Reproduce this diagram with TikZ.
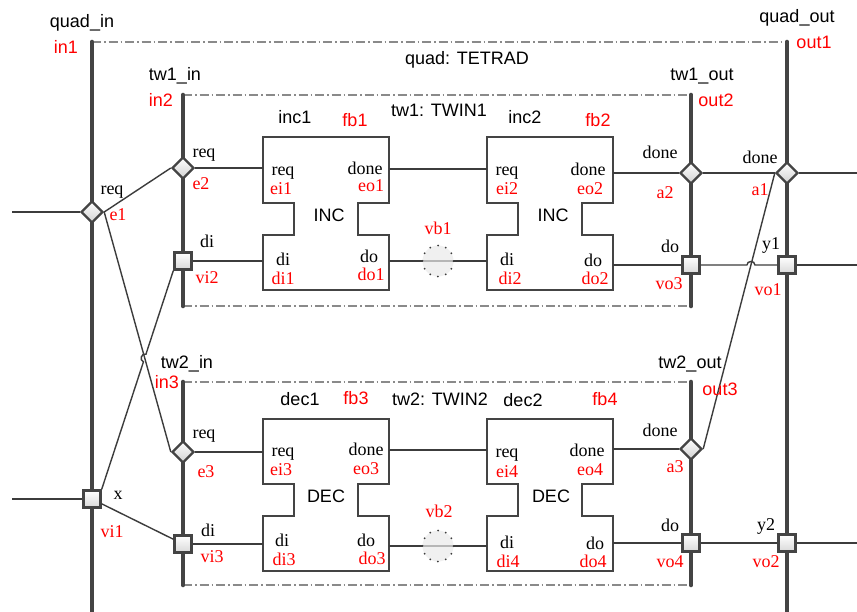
\documentclass[tikz,border=0pt]{standalone}
\usepackage{fontspec}
\setmainfont{Liberation Serif}
\setsansfont{Liberation Sans}
\usetikzlibrary{shapes.geometric,calc,intersections}
\definecolor{bus}{HTML}{444444}
\definecolor{wire}{HTML}{3C3C3C}
\definecolor{framec}{HTML}{8A8A8A}
\definecolor{labred}{HTML}{FF0000}
\tikzset{
 busline/.style={line width=4.6pt, color=bus, line cap=round},
 wireline/.style={line width=1.4pt, color=wire},
 frameline/.style={line width=1.4pt, color=framec, dash pattern=on 9pt off 3pt on 1.5pt off 3pt},
 blockline/.style={line width=2.4pt, color=bus, line join=miter},
 dia/.style={diamond, draw=bus, line width=2.4pt, minimum width=22pt, minimum height=22pt, inner sep=0pt, top color=white, bottom color=black!18},
 sq/.style={rectangle, draw=bus, line width=2.4pt, minimum size=17pt, inner sep=0pt, top color=white, bottom color=black!15},
 vbuf/.style={circle, minimum size=31pt, inner sep=0pt, fill=black!8, fill opacity=0.7, draw=wire, draw opacity=1, line width=2pt, line cap=round, dash pattern=on 0pt off 8.1pt},
 stxt/.style={font=\sffamily\fontsize{18}{20}\selectfont, inner sep=0pt, anchor=base, text=black},
 srxt/.style={stxt, text=labred},
 ttxt/.style={font=\rmfamily\fontsize{18}{20}\selectfont, inner sep=0pt, anchor=base, text=black},
 trxt/.style={ttxt, text=labred},
}
\newcommand\lbl[4]{\node[#2] (#1) at (#3) {#4};}
\begin{document}
\begin{tikzpicture}[x=1pt,y=-1pt]
\fill[white] (0,0) rectangle (857,611);
\useasboundingbox (0,0) rectangle (857,611);

% frames
\draw[frameline] (92,42) -- (787,42);
\draw[frameline] (183,95) -- (691,95);
\draw[frameline] (183,306) -- (691,306);
\draw[frameline] (183,382) -- (691,382);
\draw[frameline] (183,585) -- (691,585);

% buses
\draw[busline] (92,42) -- (92,625);
\draw[busline] (787,42) -- (787,625);
\draw[busline] (183,95) -- (183,306);
\draw[busline] (691,95) -- (691,306);
\draw[busline] (183,382) -- (183,585);
\draw[busline] (691,382) -- (691,585);

% blocks
\draw[blockline] (263,137) -- (389,137) -- (389,203) -- (358,203) -- (358,235) -- (389,235) -- (389,290) -- (263,290) -- (263,235) -- (294,235) -- (294,203) -- (263,203) -- cycle;
\draw[blockline] (487,137) -- (613,137) -- (613,203) -- (582,203) -- (582,235) -- (613,235) -- (613,290) -- (487,290) -- (487,235) -- (518,235) -- (518,203) -- (487,203) -- cycle;
\draw[blockline] (263,419) -- (389,419) -- (389,484) -- (358,484) -- (358,516) -- (389,516) -- (389,571) -- (263,571) -- (263,516) -- (294,516) -- (294,484) -- (263,484) -- cycle;
\draw[blockline] (487,419) -- (613,419) -- (613,484) -- (582,484) -- (582,516) -- (613,516) -- (613,571) -- (487,571) -- (487,516) -- (518,516) -- (518,484) -- (487,484) -- cycle;

% port coordinates
\coordinate (p-ei1) at (263,168);
\coordinate (p-eo1) at (389,169);
\coordinate (p-ei2) at (487,169);
\coordinate (p-eo2) at (613,173);
\coordinate (p-di1) at (263,261);
\coordinate (p-do1) at (389,261);
\coordinate (p-di2) at (487,261);
\coordinate (p-do2) at (613,265);
\coordinate (p-ei3) at (263,452);
\coordinate (p-eo3) at (389,450);
\coordinate (p-ei4) at (487,450);
\coordinate (p-eo4) at (613,449);
\coordinate (p-di3) at (263,544);
\coordinate (p-do3) at (389,546);
\coordinate (p-di4) at (487,546);
\coordinate (p-do4) at (613,543);
\coordinate (L1) at (12,212);
\coordinate (L2) at (12,499);
\coordinate (R1) at (857,173);
\coordinate (R2) at (857,265);
\coordinate (R3) at (857,543);
\coordinate (vb1) at (438,261);
\coordinate (vb2) at (438,546);

% wires through the variable buffers (drawn first, under the circles)
\draw[wireline] (p-do1) -- (vb1) -- (p-di2);
\draw[wireline] (p-do3) -- (vb2) -- (p-di4);
\node[vbuf] (vb1n) at (vb1) {};
\node[vbuf] (vb2n) at (vb2) {};

% event / variable connectors
\node[dia] (e1) at (92,212) {};
\node[sq] (vi1) at (92,499) {};
\node[dia] (e2) at (183,168) {};
\node[sq] (vi2) at (183,261) {};
\node[dia] (e3) at (183,452) {};
\node[sq] (vi3) at (183,544) {};
\node[dia] (a2) at (691,173) {};
\node[sq] (vo3) at (691,265) {};
\node[dia] (a1) at (787,173) {};
\node[sq] (vo1) at (787,265) {};
\node[dia] (a3) at (691,449) {};
\node[sq] (vo4) at (691,543) {};
\node[sq] (vo2) at (787,543) {};

% wires
\draw[wireline] (L1) -- (e1);
\draw[wireline] (L2) -- (vi1);
\draw[wireline] (e1.east) -- (e2.west);
\draw[wireline, name path=A] (e1.east) -- (e3.west);
\path[name path=B] (vi1.north east) -- (vi2.south west);
\path[name intersections={of=A and B, by=X1}];
\draw[wireline] (vi1.north east) -- ($(X1)!4pt!(vi1.north east)$) to[bend left=90, looseness=1.5] ($(X1)!4pt!(vi2.south west)$) -- (vi2.south west);
\draw[wireline] (vi1) -- (vi3);
\draw[wireline] (e2) -- (p-ei1);
\draw[wireline] (vi2) -- (p-di1);
\draw[wireline] (e3) -- (p-ei3);
\draw[wireline] (vi3) -- (p-di3);
\draw[wireline] (p-eo1) -- (p-ei2);
\draw[wireline] (p-eo3) -- (p-ei4);
\draw[wireline] (p-eo2) -- (a2);
\draw[wireline] (a2) -- (a1);
\draw[wireline] (a1) -- (R1);
\draw[wireline, name path=C] (a1.west) -- (a3.east);
\draw[wireline] (p-do2) -- (vo3);
\path[name path=D] (vo3) -- (vo1);
\path[name intersections={of=C and D, by=X2}];
\draw[wireline] (vo3) -- ($(X2)!4pt!(vo3)$) to[bend left=90, looseness=1.5] ($(X2)!4pt!(vo1)$) -- (vo1);
\draw[wireline] (vo1) -- (R2);
\draw[wireline] (p-eo4) -- (a3);
\draw[wireline] (p-do4) -- (vo4);
\draw[wireline] (vo4) -- (vo2);
\draw[wireline] (vo2) -- (R3);

% sans labels
\lbl{t-quadin}{stxt}{82,27}{quad\_in}
\lbl{t-in1}{srxt}{66,53}{in1}
\lbl{t-quad}{stxt}{467,64}{quad: TETRAD}
\lbl{t-quadout}{stxt}{797,22}{quad\_out}
\lbl{t-out1}{srxt}{814,48}{out1}
\lbl{t-tw1in}{stxt}{175,80}{tw1\_in}
\lbl{t-in2}{srxt}{161,106}{in2}
\lbl{t-tw1out}{stxt}{702,80}{tw1\_out}
\lbl{t-out2}{srxt}{716,106}{out2}
\lbl{t-inc1}{stxt}{295,123}{inc1}
\lbl{t-fb1}{srxt}{355,126}{fb1}
\lbl{t-tw1}{stxt}{439,116}{tw1: TWIN1}
\lbl{t-inc2}{stxt}{525,123}{inc2}
\lbl{t-fb2}{srxt}{598,126}{fb2}
\lbl{t-INC1}{stxt}{329,221}{INC}
\lbl{t-INC2}{stxt}{553,221}{INC}
\lbl{t-tw2in}{stxt}{187,368}{tw2\_in}
\lbl{t-in3}{srxt}{167,388}{in3}
\lbl{t-tw2out}{stxt}{690,368}{tw2\_out}
\lbl{t-out3}{srxt}{720,395}{out3}
\lbl{t-dec1}{stxt}{300,405}{dec1}
\lbl{t-fb3}{srxt}{356,404}{fb3}
\lbl{t-tw2}{stxt}{440,405}{tw2: TWIN2}
\lbl{t-dec2}{stxt}{523,406}{dec2}
\lbl{t-fb4}{srxt}{605,405}{fb4}
\lbl{t-DEC1}{stxt}{326,502}{DEC}
\lbl{t-DEC2}{stxt}{551,502}{DEC}

% serif labels
\lbl{t-req-e1}{ttxt}{112,194}{req}
\lbl{t-e1}{trxt}{118,220}{e1}
\lbl{t-x}{ttxt}{118,499}{x}
\lbl{t-vi1}{trxt}{112,537}{vi1}
\lbl{t-req-e2}{ttxt}{204,157}{req}
\lbl{t-e2}{trxt}{201,189}{e2}
\lbl{t-di-vi2}{ttxt}{207,247}{di}
\lbl{t-vi2}{trxt}{207,283}{vi2}
\lbl{t-req-e3}{ttxt}{204,438}{req}
\lbl{t-e3}{trxt}{206,477}{e3}
\lbl{t-di-vi3}{ttxt}{208,536}{di}
\lbl{t-vi3}{trxt}{212,562}{vi3}

\lbl{t-req-ei1}{ttxt}{283,175}{req}
\lbl{t-ei1}{trxt}{281,194}{ei1}
\lbl{t-done-eo1}{ttxt}{365,174}{done}
\lbl{t-eo1}{trxt}{371,191}{eo1}
\lbl{t-di-di1}{ttxt}{283,265}{di}
\lbl{t-di1}{trxt}{283,284}{di1}
\lbl{t-do-do1}{ttxt}{369,262}{do}
\lbl{t-do1}{trxt}{371,280}{do1}
\lbl{t-vb1}{trxt}{438,234}{vb1}
\lbl{t-req-ei2}{ttxt}{507,175}{req}
\lbl{t-ei2}{trxt}{507,194}{ei2}
\lbl{t-di-di2}{ttxt}{507,265}{di}
\lbl{t-di2}{trxt}{510,284}{di2}
\lbl{t-done-eo2}{ttxt}{588,175}{done}
\lbl{t-eo2}{trxt}{590,194}{eo2}
\lbl{t-do-do2}{ttxt}{593,266}{do}
\lbl{t-do2}{trxt}{595,284}{do2}

\lbl{t-done-a2}{ttxt}{660,158}{done}
\lbl{t-a2}{trxt}{665,198}{a2}
\lbl{t-done-a1}{ttxt}{760,163}{done}
\lbl{t-a1}{trxt}{760,195}{a1}
\lbl{t-do-vo3}{ttxt}{670,252}{do}
\lbl{t-vo3}{trxt}{669,289}{vo3}
\lbl{t-y1}{ttxt}{771,249}{y1}
\lbl{t-vo1}{trxt}{768,295}{vo1}

\lbl{t-req-ei3}{ttxt}{283,456}{req}
\lbl{t-ei3}{trxt}{281,475}{ei3}
\lbl{t-done-eo3}{ttxt}{366,455}{done}
\lbl{t-eo3}{trxt}{366,474}{eo3}
\lbl{t-di-di3}{ttxt}{282,546}{di}
\lbl{t-di3}{trxt}{284,565}{di3}
\lbl{t-do-do3}{ttxt}{366,546}{do}
\lbl{t-do3}{trxt}{372,564}{do3}
\lbl{t-vb2}{trxt}{439,517}{vb2}
\lbl{t-req-ei4}{ttxt}{507,457}{req}
\lbl{t-ei4}{trxt}{507,477}{ei4}
\lbl{t-di-di4}{ttxt}{507,548}{di}
\lbl{t-di4}{trxt}{508,567}{di4}
\lbl{t-done-eo4}{ttxt}{587,456}{done}
\lbl{t-eo4}{trxt}{590,475}{eo4}
\lbl{t-do-do4}{ttxt}{595,549}{do}
\lbl{t-do4}{trxt}{593,567}{do4}

\lbl{t-done-a3}{ttxt}{660,436}{done}
\lbl{t-a3}{trxt}{675,472}{a3}
\lbl{t-do-vo4}{ttxt}{670,531}{do}
\lbl{t-vo4}{trxt}{670,567}{vo4}
\lbl{t-y2}{ttxt}{766,530}{y2}
\lbl{t-vo2}{trxt}{766,567}{vo2}
\end{tikzpicture}
\end{document}
